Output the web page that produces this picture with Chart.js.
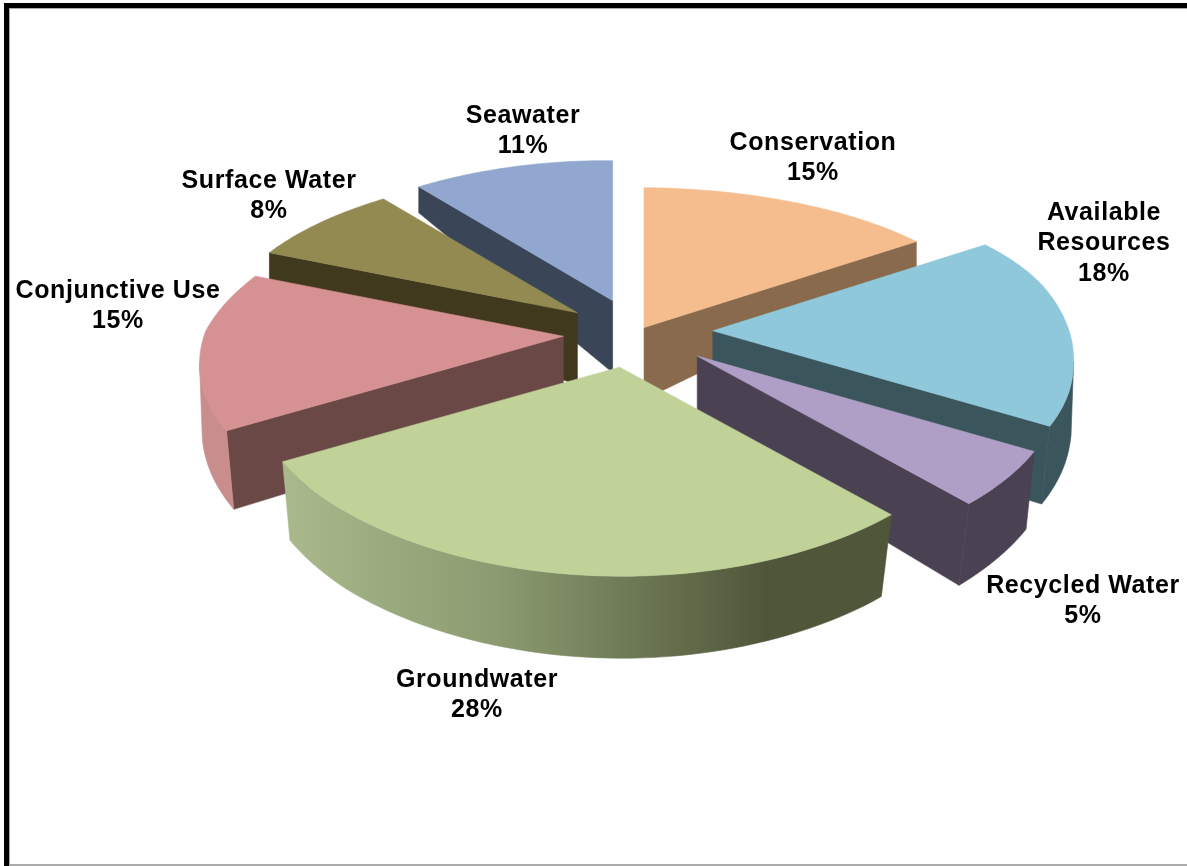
<!DOCTYPE html>
<html>
<head>
<meta charset="utf-8">
<title>Water supply mix</title>
<script src="https://cdn.jsdelivr.net/npm/chart.js@4/dist/chart.umd.min.js"></script>
<style>
    html, body { margin: 0; padding: 0; background: #fff; overflow: hidden; }
    #wrap { position: relative; width: 1187px; height: 866px; }
    #frame { position: absolute; left: 4px; top: 3px; right: 0; bottom: 0; box-sizing: border-box;
             border-top: 5px solid #000; border-left: 5px solid #000; }
    #frame div { position: absolute; left: 0; top: 0; right: 0; bottom: 0;
                 border-top: 1px solid #aaa; border-left: 1px solid #aaa; border-bottom: 2px solid #aaa; }
    canvas { position: absolute; left: 0; top: 0; }
</style>
</head>
<body>
<div id="wrap">
    <div id="frame"><div></div></div>
    <canvas id="pieChart" width="1187" height="866"></canvas>
</div>
<script>
// Values
const categories = ['Conservation', 'Available Resources', 'Recycled Water', 'Groundwater', 'Conjunctive Use', 'Surface Water', 'Seawater'];
const shares = [15, 18, 5, 28, 15, 8, 11];

// Colours per slice
const topColors = ['#f5bd8e', '#8fc8da', '#af9fc6', '#c0d298', '#d69292', '#938a52', '#91a7cf'];
const wallColors = ['#8a6a4c', '#3b555c', '#4a4152', '#4f5639', '#6a4846', '#40391e', '#3a4658'];
const rimColors = ['#8a6a4c', '#3b555c', '#4a4152', null, '#c98d8b', '#40391e', '#3a4658'];

// How far each slice is pulled out of the pie
const sliceOffsets = [11, 62, 62, 62, 62, 62, 62];
const apexNudgeX = [0, 0, 0, -9, 0, 0, 0];

// Back to front
const drawOrder = [0, 6, 5, 4, 1, 2, 3];

// Label lines and where they sit
const labelLines = [['Conservation'], ['Available', 'Resources'], ['Recycled Water'], ['Groundwater'], ['Conjunctive Use'], ['Surface Water'], ['Seawater']];
const labelX = [813, 1104, 1083, 477, 118, 269, 523];
const labelY = [143, 213, 586, 680, 291, 181, 116];
const lineGap = 30.5;

// Projection of the pie plane to the screen, fitted to the picture
const stretchX = 1.209, stretchY = 0.555, perspX = 0.14, perspY = 0.198;
const depthTable = [[-1, 26], [-0.37, 26], [0, 72], [0.5, 78], [0.75, 82], [1, 82]];

function depthAt(v) {
    for (let i = 1; i < depthTable.length; i++) {
        const [v0, d0] = depthTable[i - 1];
        const [v1, d1] = depthTable[i];
        if (v <= v1) return d0 + (d1 - d0) * (v - v0) / (v1 - v0);
    }
    return depthTable[depthTable.length - 1][1];
}

// Screen position of the slice apex, from the offset Chart.js gives the arc
function apexOf(arc, i) {
    const mid = (arc.startAngle + arc.endAngle) / 2;
    const e = arc.options.offset;
    return {
        x: arc.x + Math.cos(mid) * e * stretchX + apexNudgeX[i],
        y: arc.y + Math.sin(mid) * e * stretchY + (i === 2 ? 2 : 0)
    };
}

function rimPoint(arc, apex, angle) {
    const R = arc.outerRadius;
    const u = Math.cos(angle), v = Math.sin(angle);
    const front = Math.max(v, 0);
    let dx = R * stretchX * u / (1 - perspX * v);
    // the far left of the pie is narrower, the near side leans left
    if (u < 0 && v < 0) dx *= 1 + 0.1 * v;
    dx *= 1 - 0.02 * Math.pow(u, 10);
    dx -= 9 * front;
    // a slight roll, weaker towards the back
    const blend = Math.min(Math.max((v + 0.3) / 0.6, 0), 1);
    const dy = R * stretchY * v / (1 - perspY * v) + 7 * u * (0.4 + 0.6 * blend);
    const top = { x: apex.x + dx, y: apex.y + dy };
    const inset = (u < 0 ? 0.04 : 0.05) * front;
    return {
        top: top,
        bottom: { x: apex.x + dx * (1 - inset), y: top.y + depthAt(v) }
    };
}

function fillPoly(ctx, points, fill) {
    ctx.beginPath();
    points.forEach((p, i) => i ? ctx.lineTo(p.x, p.y) : ctx.moveTo(p.x, p.y));
    ctx.closePath();
    ctx.fillStyle = fill;
    ctx.strokeStyle = fill;
    ctx.lineWidth = 0.6;
    ctx.lineJoin = 'round';
    ctx.fill();
    ctx.stroke();
}

function groundwaterRim(ctx) {
    const g = ctx.createLinearGradient(280, 0, 890, 0);
    g.addColorStop(0, '#abba8c');
    g.addColorStop(0.36, '#8b9a70');
    g.addColorStop(0.8, '#4f5639');
    g.addColorStop(1, '#4f5639');
    return g;
}

function drawSlice(ctx, arc, i) {
    const apex = apexOf(arc, i);
    const apexFloor = { x: apex.x, y: apex.y + depthAt(0) };
    const steps = 60;
    const pts = [];
    for (let s = 0; s <= steps; s++) {
        pts.push(rimPoint(arc, apex, arc.startAngle + (arc.endAngle - arc.startAngle) * s / steps));
    }
    const first = pts[0], last = pts[steps];

    // Radial walls: a wall shows when its top edge runs right to left
    if (first.top.x < apex.x) {
        fillPoly(ctx, [apex, first.top, first.bottom, apexFloor], wallColors[i]);
    }
    if (last.top.x > apex.x) {
        fillPoly(ctx, [last.top, apex, apexFloor, last.bottom], wallColors[i]);
    }

    // Outer rim, only the part that faces the viewer
    const tops = [], bottoms = [];
    for (let s = 1; s <= steps; s++) {
        if (pts[s].top.x < pts[s - 1].top.x) {
            if (!tops.length) { tops.push(pts[s - 1].top); bottoms.push(pts[s - 1].bottom); }
            tops.push(pts[s].top);
            bottoms.push(pts[s].bottom);
        }
    }
    if (tops.length) {
        fillPoly(ctx, tops.concat(bottoms.reverse()), rimColors[i] || groundwaterRim(ctx));
    }

    // Top face
    fillPoly(ctx, [apex].concat(pts.map(p => p.top)), topColors[i]);
}

const pie3d = {
    id: 'pie3d',
    // The library lays out the arcs; they are drawn here tilted with side walls
    beforeDatasetDraw(chart, args) {
        const ctx = chart.ctx;
        const arcs = chart.getDatasetMeta(args.index).data;
        ctx.save();
        drawOrder.forEach(i => drawSlice(ctx, arcs[i], i));
        ctx.restore();
        return false;
    },
    afterDatasetsDraw(chart) {
        const ctx = chart.ctx;
        ctx.save();
        ctx.font = 'bold 25px "Liberation Sans", Arial, sans-serif';
        ctx.letterSpacing = '0.6px';
        ctx.fillStyle = '#000';
        ctx.textAlign = 'center';
        ctx.textBaseline = 'middle';
        categories.forEach((name, i) => {
            const lines = labelLines[i].concat([shares[i] + '%']);
            lines.forEach((line, n) => ctx.fillText(line, labelX[i], labelY[i] + n * lineGap));
        });
        ctx.restore();
    }
};

new Chart(document.getElementById('pieChart'), {
    type: 'pie',
    data: {
        labels: categories,
        datasets: [{
            data: shares,
            backgroundColor: topColors,
            offset: sliceOffsets,
            borderWidth: 0
        }]
    },
    options: {
        responsive: false,
        animation: false,
        layout: { padding: { left: 89, bottom: 200 } },
        plugins: {
            legend: { display: false },
            tooltip: { enabled: false }
        }
    },
    plugins: [pie3d]
});
</script>
</body>
</html>
